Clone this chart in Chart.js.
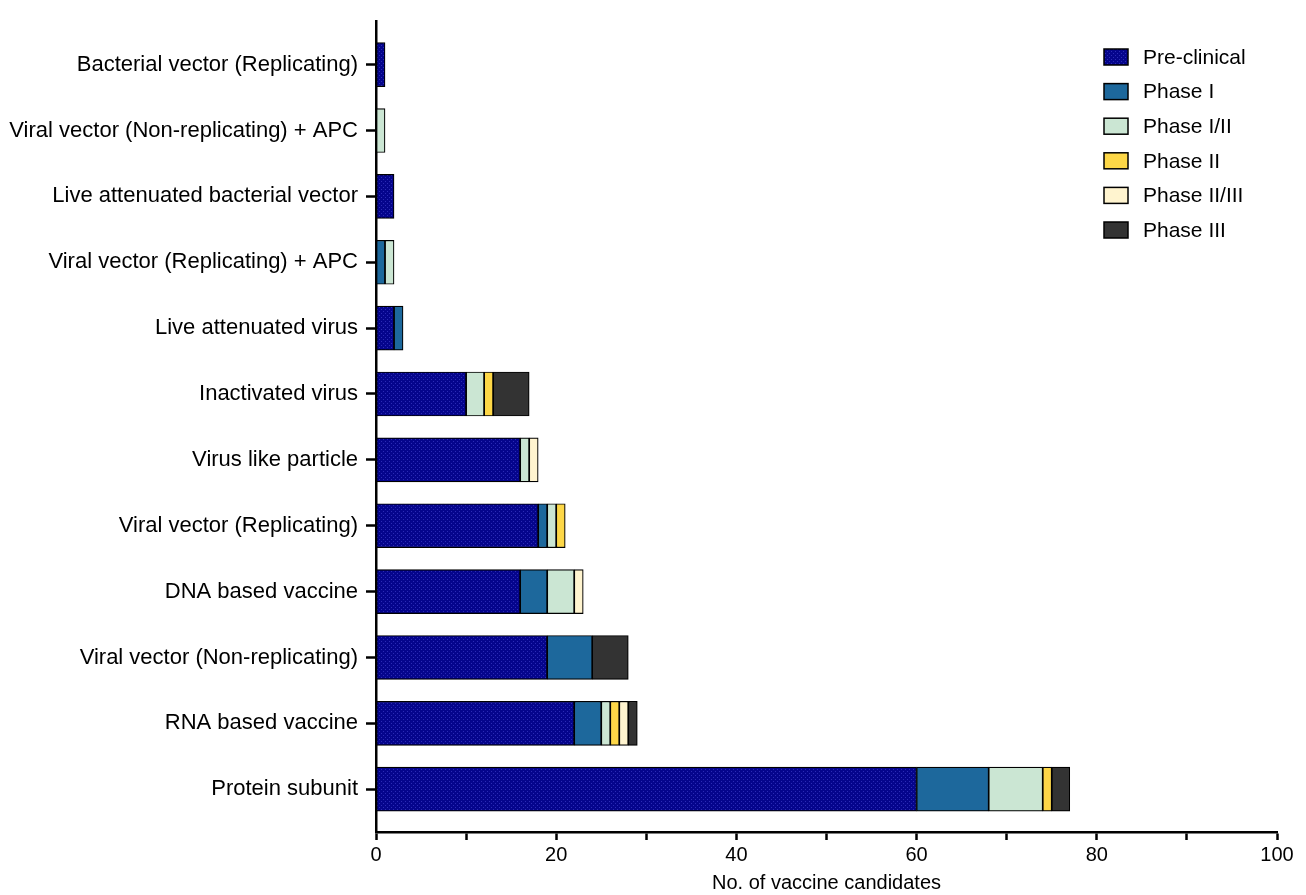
<!DOCTYPE html>
<html>
<head>
<meta charset="utf-8">
<script src="https://cdn.jsdelivr.net/npm/chart.js@4/dist/chart.umd.min.js"></script>
<style>
  html, body { margin: 0; padding: 0; background: #fff; }
  #wrap { width: 1306px; height: 895px; }
</style>
</head>
<body>
<div id="wrap"><canvas id="grafico"></canvas></div>
<script>
const categorias = [
  'Bacterial vector (Replicating)',
  'Viral vector (Non-replicating) + APC',
  'Live attenuated bacterial vector',
  'Viral vector (Replicating) + APC',
  'Live attenuated virus',
  'Inactivated virus',
  'Virus like particle',
  'Viral vector (Replicating)',
  'DNA based vaccine',
  'Viral vector (Non-replicating)',
  'RNA based vaccine',
  'Protein subunit'
];
const fases = ['Pre-clinical', 'Phase I', 'Phase I/II', 'Phase II', 'Phase II/III', 'Phase III'];
const preClinical = [1, 0, 2, 0, 2, 10, 16, 18, 16, 19, 22, 60];
const phase1      = [0, 0, 0, 1, 1, 0, 0, 1, 3, 5, 3, 8];
const phase12     = [0, 1, 0, 1, 0, 2, 1, 1, 3, 0, 1, 6];
const phase2      = [0, 0, 0, 0, 0, 1, 0, 1, 0, 0, 1, 1];
const phase23     = [0, 0, 0, 0, 0, 0, 1, 0, 1, 0, 1, 0];
const phase3      = [0, 0, 0, 0, 0, 4, 0, 0, 0, 4, 1, 2];
const xTicks = [0, 20, 40, 60, 80, 100];

// padrao pontilhado do pre-clinico
const pc = document.createElement('canvas');
pc.width = 4; pc.height = 4;
const pctx = pc.getContext('2d');
pctx.fillStyle = '#05058c';
pctx.fillRect(0, 0, 4, 4);
pctx.fillStyle = '#2b2bb5';
pctx.fillRect(1, 1, 1, 1);
pctx.fillRect(3, 3, 1, 1);
const ctx = document.getElementById('grafico').getContext('2d');
const pontilhado = ctx.createPattern(pc, 'repeat');

const cores = [pontilhado, '#1d689c', '#cbe6d3', '#fdd747', '#fff4cf', '#333333'];
const series = [preClinical, phase1, phase12, phase2, phase23, phase3];

const fonte = 'Arial, "Liberation Sans", sans-serif';

// legenda desenhada dentro da area do grafico
const legendaPlugin = {
  id: 'legenda',
  afterDraw(chart) {
    const c = chart.ctx;
    c.save();
    chart.data.datasets.forEach((ds, i) => {
      const y = 57 + i * 34.6;
      c.fillStyle = ds.backgroundColor;
      c.fillRect(1104, y - 8, 24, 16);
      c.strokeStyle = '#000';
      c.lineWidth = 1.5;
      c.strokeRect(1104, y - 8, 24, 16);
      c.fillStyle = '#000';
      c.font = '21px ' + fonte;
      c.textBaseline = 'middle';
      c.fillText(ds.label, 1143, y + 1);
    });
    c.restore();
  }
};

new Chart(ctx, {
  type: 'bar',
  data: {
    datasets: series.map((vals, k) => ({
      label: fases[k],
      data: vals.map((v, i) => ({ x: v || null, y: i })),
      backgroundColor: cores[k],
      borderColor: '#000',
      borderWidth: 1.2,
      borderSkipped: false,
      barThickness: 44
    }))
  },
  options: {
    indexAxis: 'y',
    responsive: true,
    maintainAspectRatio: false,
    animation: false,
    layout: { padding: { top: 12, right: 29, left: 0, bottom: 0 } },
    plugins: {
      legend: { display: false },
      tooltip: { enabled: false }
    },
    scales: {
      x: {
        type: 'linear',
        stacked: true,
        min: 0,
        max: 100,
        afterFit(scale) { scale.height = 63; },
        ticks: {
          stepSize: 10,
          autoSkip: false,
          padding: 3,
          color: '#000',
          font: { size: 20, family: fonte },
          callback: v => xTicks.includes(v) ? String(v) : ''
        },
        grid: { drawOnChartArea: false, tickLength: 8, tickWidth: 2.5, tickColor: '#000' },
        border: { color: '#000', width: 2.5 },
        title: {
          display: true,
          text: 'No. of vaccine candidates',
          color: '#000',
          font: { size: 20, family: fonte },
          padding: { top: 0, bottom: 0 }
        }
      },
      y: {
        type: 'linear',
        stacked: true,
        reverse: true,
        offset: false,
        min: -0.66,
        max: 11.65,
        afterFit(scale) { scale.width = 376; },
        ticks: {
          stepSize: 1,
          includeBounds: false,
          maxTicksLimit: 30,
          autoSkip: false,
          padding: 8,
          color: '#000',
          font: { size: 22, family: fonte },
          callback: v => Number.isInteger(v) ? categorias[v] : ''
        },
        grid: { offset: false, drawOnChartArea: false, tickLength: 10, tickWidth: 2.5, tickColor: '#000' },
        border: { color: '#000', width: 2.5 }
      }
    }
  },
  plugins: [legendaPlugin]
});
</script>
</body>
</html>
